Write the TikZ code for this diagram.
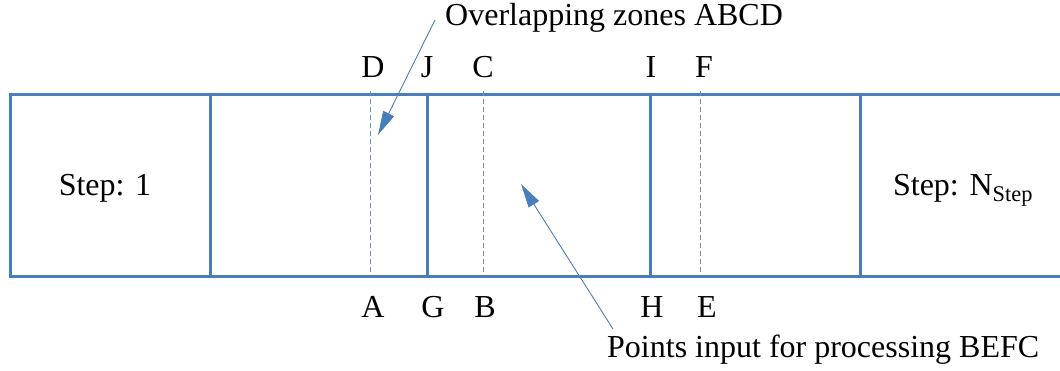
\documentclass[tikz,border=0pt]{standalone}
\usepackage{fontspec}
\setmainfont{Liberation Serif}
\usepackage{xcolor}
\usetikzlibrary{arrows.meta,positioning}
\definecolor{lineblue}{RGB}{74,126,187}

\begin{document}
\begin{tikzpicture}[x=1pt, y=-1pt,
    every node/.style={font=\rmfamily\fontsize{32}{38}\selectfont, inner sep=0pt},
    wall/.style={draw=lineblue, line width=3pt},
    overlap/.style={draw=lineblue!85, line width=0.8pt, dash pattern=on 5pt off 3pt},
    pointer/.style={draw=lineblue, line width=0.9pt, -{Triangle[length=24pt, width=12pt]}},
    letter/.style={anchor=base},
    note/.style={anchor=base west}]

    \useasboundingbox (0,0) rectangle (1060,370);

    % outer strip, open on the right
    \draw[wall] (1060,94) -- (10,94) -- (10,276) -- (1060,276);
    \foreach \x in {210,427,650,860}
        \draw[wall] (\x,94) -- (\x,276);

    % overlap borders
    \foreach \x in {370,483,700}
        \draw[overlap] (\x,91) -- (\x,273);

    \node[letter] (stepone) at (105,195) {Step: 1};
    \node[letter] (steplast) at (963,195) {Step: N\textsubscript{Step}};

    % labels above
    \node[letter] (D) at (373,77) {D};
    \node[letter] (J) at (427,77) {J};
    \node[letter] (C) at (483,77) {C};
    \node[letter] (I) at (651,77) {I};
    \node[letter] (F) at (704,77) {F};

    % labels below
    \node[letter] (A) at (373,317) {A};
    \node[letter] (G) at (433,317) {G};
    \node[letter] (B) at (485,317) {B};
    \node[letter] (H) at (652,317) {H};
    \node[letter] (E) at (707,317) {E};

    \node[note] (ovtext) at (445,25) {Overlapping zones ABCD};
    \node[note] (pttext) at (607,357) {Points input for processing BEFC};

    \coordinate (ovtail) at (435,20);
    \coordinate (ovtip) at (378,135);
    \coordinate (pttail) at (613,329);
    \coordinate (pttip) at (521,184);

    \draw[pointer] (ovtail) -- (ovtip);
    \draw[pointer] (pttail) -- (pttip);
\end{tikzpicture}
\end{document}
